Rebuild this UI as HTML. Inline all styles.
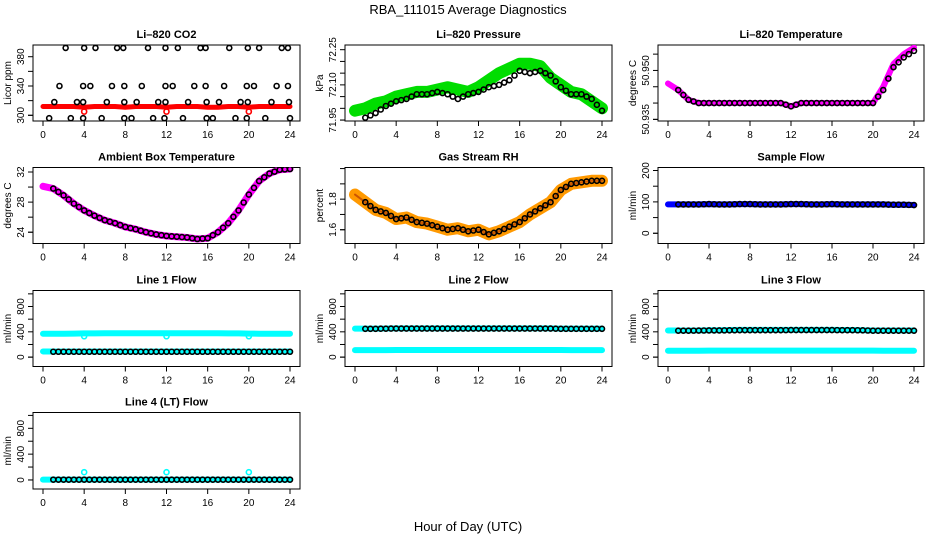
<!DOCTYPE html>
<html><head><meta charset="utf-8"><style>
html,body{margin:0;padding:0;background:#fff}
svg{display:block;font-family:"Liberation Sans",Arial,sans-serif}
</style></head><body>
<svg id="chart" width="936" height="540" viewBox="0 0 936 540" xmlns="http://www.w3.org/2000/svg">
<text x="468" y="14" text-anchor="middle" font-size="13">RBA_111015  Average Diagnostics</text>
<text x="468" y="531" text-anchor="middle" font-size="13">Hour of Day (UTC)</text>
</svg>
<script>
// ---------- data ----------
const hours = [0,1,2,3,4,5,6,7,8,9,10,11,12,13,14,15,16,17,18,19,20,21,22,23,24];
const xTicks = [0,4,8,12,16,20,24];

const co2RedHourly = [312,312,312,312,311,312,312,312,311,312,312,312,311,312,312,312,311,311,312,312,311,312,312,312,312];
const co2BlackT = [2.2,4.0,5.1,7.2,7.8,10.2,11.9,13.1,15.3,15.8,18.1,19.9,21.0,23.2,23.8,
  1.6,3.9,4.6,6.7,7.9,9.6,11.9,12.6,14.7,15.8,17.6,19.8,20.5,22.7,23.8,
  1.1,3.3,3.9,6.2,7.9,9.1,11.2,11.9,14.1,15.9,17.1,19.2,19.9,22.2,23.9,
  0.6,2.7,3.9,5.7,7.9,8.6,10.7,11.8,13.6,15.9,16.5,18.7,19.8,21.6,24.0];
const co2BlackV = [392,392,392,392,392,392,392,392,392,392,392,392,392,392,392,
  340,340,340,340,340,340,340,340,340,340,340,340,340,340,340,
  318,318,318,318,318,318,318,318,318,318,318,318,318,318,318,
  296,296,296,296,296,296,296,296,296,296,296,296,296,296,296];

const presGreen = [71.99,72.00,72.02,72.03,72.05,72.06,72.07,72.07,72.08,72.09,72.08,72.07,72.09,72.12,72.15,72.17,72.19,72.19,72.18,72.13,72.10,72.07,72.06,72.03,72.00];
const presBlack = [71.96,71.96,71.98,72.01,72.03,72.04,72.06,72.06,72.07,72.06,72.04,72.06,72.07,72.09,72.10,72.12,72.16,72.15,72.16,72.14,72.09,72.06,72.06,72.04,71.99];

const tempMag = [50.946,50.944,50.941,50.940,50.940,50.940,50.940,50.940,50.940,50.940,50.940,50.940,50.939,50.940,50.940,50.940,50.940,50.940,50.940,50.940,50.940,50.945,50.952,50.955,50.957];
const tempBlack = [50.945,50.944,50.941,50.940,50.940,50.940,50.940,50.940,50.940,50.940,50.940,50.940,50.939,50.940,50.940,50.940,50.940,50.940,50.940,50.940,50.940,50.944,50.951,50.954,50.956];

const ambient = [30.1,29.8,28.9,27.8,26.9,26.2,25.6,25.2,24.7,24.4,24.0,23.7,23.5,23.4,23.3,23.1,23.2,24.0,25.2,26.9,29.0,30.8,31.8,32.3,32.4];
const rh = [1.83,1.78,1.73,1.71,1.67,1.68,1.65,1.64,1.62,1.60,1.61,1.59,1.60,1.57,1.59,1.62,1.65,1.70,1.74,1.78,1.86,1.90,1.91,1.92,1.92];
const sampleFlow = [92,92,92,92,93,92,92,93,93,92,92,92,93,93,92,92,93,92,92,92,92,92,91,91,90];

const line1Hi = [370,370,370,372,375,376,377,378,378,378,378,378,378,378,378,378,378,377,376,375,372,370,370,370,370];
const line1Lo = [90,90,90,90,90,90,90,90,90,90,90,90,90,90,90,90,90,90,90,90,90,90,90,90,90];
const line1Black = [85,85,85,85,85,85,85,85,85,85,85,85,85,85,85,85,85,85,85,85,85,85,85,85,85];
const line2Hi = [450,450,450,452,455,455,455,455,455,455,455,455,455,455,455,455,455,455,455,455,450,450,450,450,450];
const line2Lo = [110,110,110,110,112,112,112,112,112,112,112,112,112,112,112,112,112,112,112,112,112,110,110,110,110];
const line2Black = [448,448,448,450,452,452,452,452,452,452,452,452,452,452,452,452,452,452,452,452,448,448,448,448,448];
const line3Hi = [420,420,420,420,425,425,428,430,430,430,430,430,430,430,430,430,430,428,428,425,420,420,420,420,420];
const line3Lo = [100,100,100,100,102,102,102,102,102,102,102,102,102,102,102,102,102,102,102,102,102,100,100,100,100];
const line3Black = [418,418,418,420,422,422,424,426,426,426,426,426,428,428,428,428,428,426,426,424,418,418,418,418,418];
const line4Cyan = [5,5,5,5,5,5,5,5,5,5,5,5,5,5,5,5,5,5,5,5,5,5,5,5,5];
const line4Black = [5,5,5,5,5,5,5,5,5,5,5,5,5,5,5,5,5,5,5,5,5,5,5,5,5];
const cyanOutT = [4,12,20];
const line1OutV = [330,330,330];
const line4OutV = [120,120,120];

// ---------- drawing ----------
const NS="http://www.w3.org/2000/svg";
const svg=document.getElementById('chart');
function el(tag,attrs,parent){const e=document.createElementNS(NS,tag);for(const k in attrs)e.setAttribute(k,attrs[k]);(parent||svg).appendChild(e);return e;}

const cols=[[33,300],[345,612],[658,924]];
const rows=[[45,121],[167.5,243.5],[290.5,366.5],[412.5,489]];

function panel(name,title,ylab,c,r,top,bot,ticks,labels){
  const [L,R]=cols[c],[T,B]=rows[r];
  const g=el('g',{});
  
  
  const x=t=>L+10+t*(R-L-20)/24;
  const y=v=>T+(top-v)/(top-bot)*(B-T);
  const tt=el('text',{x:(L+R)/2,y:T-7,'text-anchor':'middle','font-size':11,'font-weight':'bold'},g);
  tt.textContent=title;
  
  
  const box=el('rect',{x:L,y:T,width:R-L,height:B-T,fill:'none',stroke:'#000','stroke-width':1},g);
  
  
  // x axis
  el('line',{x1:x(0),x2:x(24),y1:B,y2:B,stroke:'#000'},g);
  xTicks.forEach(t=>{
    el('line',{x1:x(t),x2:x(t),y1:B,y2:B+5,stroke:'#000'},g);
    const lb=el('text',{x:x(t),y:B+17,'text-anchor':'middle','font-size':10},g);
    lb.textContent=t;
    
    
  });
  // y axis
  el('line',{x1:L,x2:L-5,y1:y(ticks[0]),y2:y(ticks[0]),stroke:'#000'},g);
  el('line',{x1:L,x2:L,y1:y(ticks[0]),y2:y(ticks[ticks.length-1]),stroke:'#000'},g);
  ticks.forEach(v=>el('line',{x1:L,x2:L-5,y1:y(v),y2:y(v),stroke:'#000'},g));
  labels.forEach(v=>{
    const yy=y(parseFloat(v));
    const lb=el('text',{x:L-9,y:yy,'text-anchor':'middle','font-size':10,transform:`rotate(-90 ${L-9} ${yy})`},g);
    lb.textContent=v;
    
    
  });
  const yt=el('text',{x:L-22,y:(T+B)/2,'text-anchor':'middle','font-size':10,transform:`rotate(-90 ${L-22} ${(T+B)/2})`},g);
  yt.textContent=ylab;
  
  
  const clip='clip-'+name;
  const cp=el('clipPath',{id:clip},g);el('rect',{x:L,y:T,width:R-L,height:B-T},cp);
  const data=el('g',{'clip-path':`url(#${clip})`},g);
  return {x,y,g:data};
}
function band(p,vals,color,w,name){
  const pts=vals.map((v,i)=>p.x(hours[i])+','+p.y(v)).join(' ');
  const pl=el('polyline',{points:pts,fill:'none',stroke:color,'stroke-width':w,'stroke-linejoin':'round','stroke-linecap':'round'},p.g);
  
  
}
function pts(p,ts,vs,color,name,r,sw){
  ts.forEach((t,i)=>{
    const c=el('circle',{cx:p.x(t),cy:p.y(vs[i]),r:r||2.5,fill:'none',stroke:color,'stroke-width':sw||1.6},p.g);
    
    
  });
}
function dense(p,vals,color,name,step){
  // markers every 'step' hours along hourly values (plotting hourly readings)
  hours.forEach((h,i)=>{
    if(h<0.4)return;
    const c=el('circle',{cx:p.x(h),cy:p.y(vals[i]),r:2.5,fill:'none',stroke:color,'stroke-width':1.6},p.g);
    
    
    if(i<vals.length-1){
      const c2=el('circle',{cx:(p.x(h)+p.x(hours[i+1]))/2,cy:(p.y(vals[i])+p.y(vals[i+1]))/2,r:2.5,fill:'none',stroke:color,'stroke-width':1.6},p.g);
      
      
    }
  });
}

// CO2
let p=panel('co2','Li\u2013820 CO2','Licor ppm',0,0,396,292.2,[300,320,340,360,380],['300','340','380']);
band(p,co2RedHourly,'#ff0000',5,'co2-red-series');
pts(p,[4,12,20],[305,305,305],'#ff0000','co2-red-outlier');
pts(p,co2BlackT,co2BlackV,'#000','co2-black-point');
// Pressure
p=panel('pressure','Li\u2013820 Pressure','kPa',1,0,72.27,71.946,[71.95,72.00,72.05,72.10,72.15,72.20,72.25],['71.95','72.10','72.25']);
band(p,presGreen,'#00dd00',12,'pressure-green-series');
dense(p,presBlack,'#000','pressure-black-point');
// Temperature
p=panel('temperature','Li\u2013820 Temperature','degrees C',2,0,50.9578,50.9345,[50.935,50.940,50.945,50.950,50.955],['50.935','50.950']);
band(p,tempMag,'#ff00ff',6,'temperature-magenta-series');
dense(p,tempBlack,'#000','temperature-black-point');
// Ambient
p=panel('ambient','Ambient Box Temperature','degrees C',0,1,32.6,22.5,[24,26,28,30,32],['24','28','32']);
band(p,ambient,'#ff00ff',7,'ambient-magenta-series');
dense(p,ambient,'#000','ambient-black-point');
// RH
p=panel('rh','Gas Stream RH','percent',1,1,2.007,1.51,[1.6,1.7,1.8,1.9,2.0],['1.6','1.8']);
band(p,rh,'#ff9900',12,'rh-orange-series');
band(p,rh,'#cc5500',2,'rh-orange-core');
dense(p,rh,'#000','rh-black-point');
// Sample flow
p=panel('sample-flow','Sample Flow','ml/min',2,1,209.6,-32.6,[0,50,100,150,200],['0','100','200']);
band(p,sampleFlow,'#0000ff',6,'sample-flow-blue-series');
dense(p,sampleFlow,'#000','sample-flow-black-point');
// Line flows
const fT=[0,200,400,600,800,1000],fL=['0','400','800'];
p=panel('line1','Line 1 Flow','ml/min',0,2,1053,-148,fT,fL);
band(p,line1Hi,'#00ffff',6,'line1-cyan-upper');
band(p,line1Lo,'#00ffff',6,'line1-cyan-lower');
pts(p,cyanOutT,line1OutV,'#00ffff','line1-cyan-outlier');
dense(p,line1Black,'#000','line1-black-point');
p=panel('line2','Line 2 Flow','ml/min',1,2,1053,-148,fT,fL);
band(p,line2Hi,'#00ffff',6,'line2-cyan-upper');
band(p,line2Lo,'#00ffff',6,'line2-cyan-lower');
dense(p,line2Black,'#000','line2-black-point');
p=panel('line3','Line 3 Flow','ml/min',2,2,1053,-148,fT,fL);
band(p,line3Hi,'#00ffff',6,'line3-cyan-upper');
band(p,line3Lo,'#00ffff',6,'line3-cyan-lower');
dense(p,line3Black,'#000','line3-black-point');
p=panel('line4','Line 4 (LT) Flow','ml/min',0,3,1045,-140,fT,fL);
band(p,line4Cyan,'#00ffff',6,'line4-cyan-series');
pts(p,cyanOutT,line4OutV,'#00ffff','line4-cyan-outlier');
dense(p,line4Black,'#000','line4-black-point');
</script>
</body></html>
